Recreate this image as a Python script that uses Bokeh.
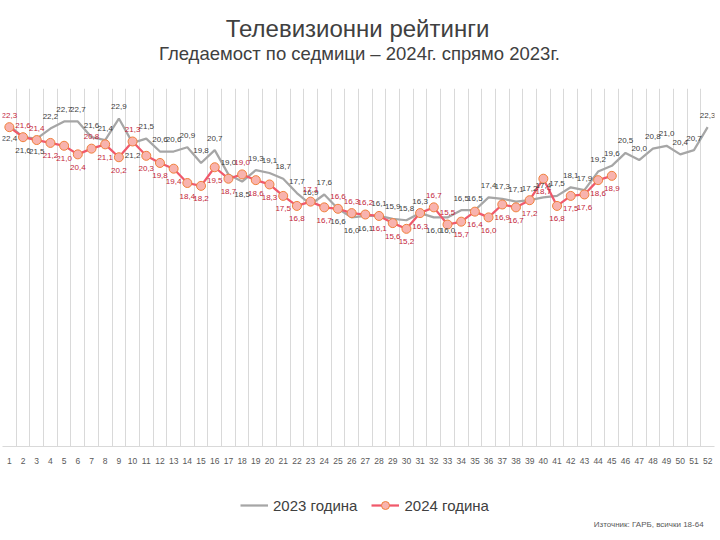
from bokeh.plotting import figure
from bokeh.layouts import column
from bokeh.models import ColumnDataSource, FixedTicker, Legend, LegendItem, Range1d, Label
from bokeh.core.properties import value
from bokeh.embed import file_html
from bokeh.resources import INLINE

weeks = list(range(1, 53))
ratings_2023 = [22.4, 21.6, 21.5, 22.2, 22.7, 22.7, 21.6, 21.4, 22.9, 21.2,
                21.5, 20.6, 20.6, 20.9, 19.8, 20.7, 19.0, 18.5, 19.3, 19.1,
                18.7, 17.7, 16.9, 17.6, 16.6, 16.0, 16.1, 16.1, 15.9, 15.8,
                16.3, 16.0, 16.0, 16.5, 16.5, 17.4, 17.3, 17.1, 17.2, 17.4,
                17.5, 18.1, 17.9, 19.2, 19.6, 20.5, 20.0, 20.8, 21.0, 20.4,
                20.7, 22.3]
ratings_2024 = [22.3, 21.6, 21.4, 21.2, 21.0, 20.4, 20.8, 21.1, 20.2, 21.3,
                20.3, 19.8, 19.4, 18.4, 18.2, 19.5, 18.7, 19.0, 18.6, 18.3,
                17.5, 16.8, 17.1, 16.7, 16.6, 16.3, 16.2, 16.1, 15.6, 15.2,
                16.3, 16.7, 15.5, 15.7, 16.4, 16.0, 16.9, 16.7, 17.2, 18.7,
                16.8, 17.5, 17.6, 18.6, 18.9]
series_names = ["2023 година", "2024 година"]
title_text = "Телевизионни рейтинги"
subtitle_text = "Гледаемост по седмици – 2024г. спрямо 2023г."
source_text = "Източник: ГАРБ, всички 18-64"

# label placement (A = above, B = below) -- style only
side_2023 = "BBBAAAAAAB" "AAAAAAABAA" "AAAABBBAAA" "ABBAAAAAAA" "AAAAAAAAAA" "AA"
side_2024 = "AAABBBABBA" "BBBBBBBABB" "BBABAAABBB" "BAABBBBBBB" "BBBBB"

FONT = "Liberation Sans"
GRAY = "#A6A6A6"
RED = "#F0596B"
MFILL, MLINE = "#F8B3AE", "#F0813C"
ABOVE, BELOW = -12, 13
NAN = float("nan")

W = 720
TOP_H, MAIN_H, BOT_H = 88, 387, 65


def fmt(v):
    return f"{v:.1f}".replace(".", ",")


def blank(fig):
    fig.axis.visible = False
    fig.grid.grid_line_color = None
    fig.outline_line_color = None
    fig.background_fill_color = "white"
    fig.border_fill_color = "white"


# ---- title strip ----
top = figure(width=W, height=TOP_H, output_backend="svg", toolbar_location=None,
             x_range=Range1d(0, W), y_range=Range1d(TOP_H, 0),
             min_border=0)
blank(top)
top.add_layout(Label(x=W / 2 - 1, y=28, text=title_text, text_align="center",
                     text_baseline="middle", text_font=FONT, text_font_size="24px",
                     text_color="#404040"))
top.add_layout(Label(x=W / 2 + 1, y=53, text=subtitle_text, text_align="center",
                     text_baseline="middle", text_font=FONT, text_font_size="18.5px",
                     text_color="#404040"))

# ---- main chart ----
weeks_2024 = weeks[:len(ratings_2024)]
src23 = ColumnDataSource(dict(x=weeks, y=ratings_2023,
                              t=[fmt(v) for v in ratings_2023],
                              dy=[ABOVE if s == "A" else BELOW for s in side_2023]))
src24 = ColumnDataSource(dict(x=weeks_2024, y=ratings_2024,
                              t=[fmt(v) for v in ratings_2024],
                              dy=[ABOVE if s == "A" else BELOW for s in side_2024]))

p = figure(width=W, height=MAIN_H, output_backend="svg", toolbar_location=None,
           x_range=Range1d(0.5, 52.5), y_range=Range1d(0, 25),
           min_border_left=2, min_border_right=6, min_border_top=0,
           min_border_bottom=29)
p.outline_line_color = None
p.background_fill_color = "white"
p.border_fill_color = "white"

p.yaxis.visible = False
p.ygrid.grid_line_color = None
p.xgrid.ticker = FixedTicker(ticks=[w + 0.5 for w in range(0, 53)])
p.xgrid.grid_line_color = "#D9D9D9"
p.xgrid.grid_line_width = 1
p.xaxis.ticker = FixedTicker(ticks=weeks)
p.xaxis.major_tick_line_color = None
p.xaxis.minor_tick_line_color = None
p.xaxis.axis_line_color = "#D9D9D9"
p.xaxis.major_label_text_font = FONT
p.xaxis.major_label_text_font_size = "8.5px"
p.xaxis.major_label_text_color = "#595959"
p.xaxis.major_label_standoff = 5

p.line("x", "y", source=src23, line_color=GRAY, line_width=2.25)
p.line("x", "y", source=src24, line_color=RED, line_width=2.25)
p.scatter("x", "y", source=src24, size=9, fill_color=MFILL,
          line_color=MLINE, line_width=1)

p.text("x", "y", text="t", source=src23, y_offset="dy", text_align="center",
       text_baseline="middle", text_font=value(FONT), text_font_size="8px",
       text_color="#404040")
p.text("x", "y", text="t", source=src24, y_offset="dy", text_align="center",
       text_baseline="middle", text_font=value(FONT), text_font_size="8px",
       text_color="#C41E3A")

# ---- legend & source strip ----
bot = figure(width=W, height=BOT_H, output_backend="svg", toolbar_location=None,
             x_range=Range1d(0, W), y_range=Range1d(BOT_H, 0), min_border=0)
blank(bot)
l23 = bot.line(x=[NAN], y=[NAN], line_color=GRAY, line_width=2.25)
l24 = bot.line(x=[NAN], y=[NAN], line_color=RED, line_width=2.25)
s24 = bot.scatter(x=[NAN], y=[NAN], size=9, fill_color=MFILL, line_color=MLINE,
                  line_width=1)
legend = Legend(items=[LegendItem(label=series_names[0], renderers=[l23]),
                       LegendItem(label=series_names[1], renderers=[l24, s24])],
                orientation="horizontal", location=(238, 25),
                label_text_font=FONT, label_text_font_size="15px",
                label_text_color="#404040", glyph_width=28, spacing=14,
                border_line_color=None, background_fill_alpha=0,
                margin=0, padding=4)
bot.add_layout(legend, "center")
bot.add_layout(Label(x=709, y=49, text=source_text, text_align="right",
                     text_baseline="middle", text_font=FONT, text_font_size="8px",
                     text_color="#595959"))

layout = column(top, p, bot, spacing=0)
open("out.html", "w").write(file_html(layout, INLINE))
